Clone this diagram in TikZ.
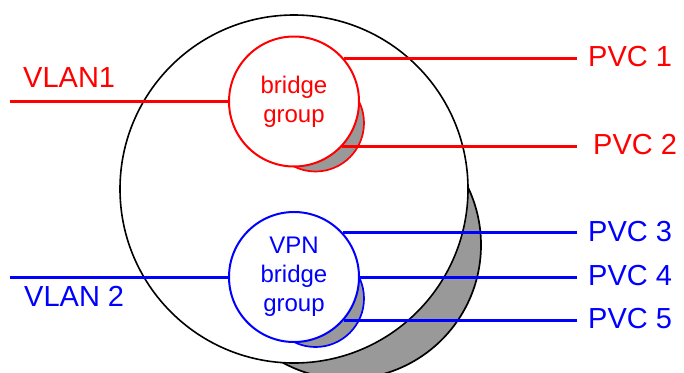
\documentclass[tikz,border=0pt]{standalone}
\usepackage{fontspec}
\setmainfont{Liberation Sans}
\definecolor{shadowgray}{RGB}{153,153,153}
\tikzset{
  bigcirc/.style={circle, draw=black, line width=1.6pt, fill=white, minimum size=348pt, inner sep=0pt},
  smallcirc/.style={circle, draw=#1, line width=2pt, fill=white, minimum size=130pt, inner sep=0pt,
     text=#1, align=center, font=\fontsize{24}{29}\selectfont},
  shadowpath/.style={draw=#1, fill=shadowgray, line width=1.7pt},
  wire/.style={draw=#1, line width=3pt},
  biglabel/.style={text=#1, inner sep=0pt, anchor=base west, font=\fontsize{29}{34}\selectfont},
}
\begin{document}
\begin{tikzpicture}[x=1pt, y=-1pt]
\useasboundingbox (0,0) rectangle (684,372);
% big shadow
\begin{scope}
  \clip (0,0) rectangle (684,372);
  \path[shadowpath=black] (347,245) circle[radius=134];
\end{scope}
\node[bigcirc] (big) at (294,189) {};
% small shadows
\path[shadowpath=red] (315.5,123) circle[radius=48.5];
\path[shadowpath=blue] (315.5,298.5) circle[radius=48.5];
% bridge groups
\node[smallcirc=red] (rb) at (294,101.5) {bridge\\group};
\node[smallcirc=blue] (bb) at (294,277) {VPN\\bridge\\group};
% end coordinates
\coordinate (vs) at (10,0);
\coordinate (pe) at (577,0);
% labels
\node[biglabel=red] (vlan1) at (23,87) {VLAN1};
\node[biglabel=blue] (vlan2) at (24,306.7) {VLAN 2};
\node[biglabel=red] (pvc1) at (588,66.7) {PVC 1};
\node[biglabel=red] (pvc2) at (593,154) {PVC 2};
\node[biglabel=blue] (pvc3) at (588,241.7) {PVC 3};
\node[biglabel=blue] (pvc4) at (588,285) {PVC 4};
\node[biglabel=blue] (pvc5) at (588,328) {PVC 5};
% wires
\draw[wire=red] (rb.west) -- (rb.west -| vs);
\draw[wire=red] (rb.41) -- (rb.41 -| pe);
\draw[wire=red] (rb.-43) -- (rb.-43 -| pe);
\draw[wire=blue] (bb.west) -- (bb.west -| vs);
\draw[wire=blue] (bb.42) -- (bb.42 -| pe);
\draw[wire=blue] (bb.east) -- (bb.east -| pe);
\draw[wire=blue] (bb.-41) -- (bb.-41 -| pe);
\end{tikzpicture}
\end{document}
